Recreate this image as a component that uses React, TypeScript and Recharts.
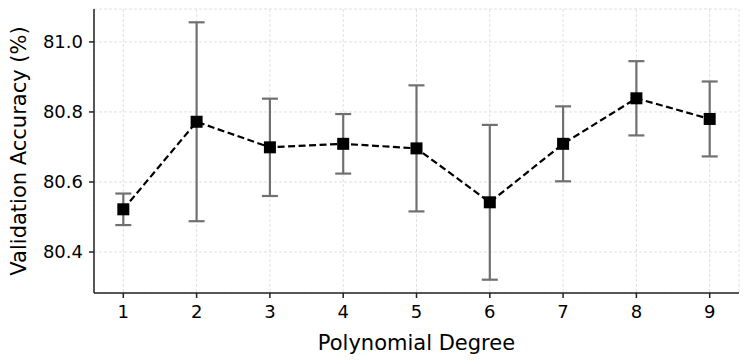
import React from 'react';
import { ComposedChart, Line, XAxis, YAxis, CartesianGrid, ErrorBar, Label } from 'recharts';

const degrees = [1, 2, 3, 4, 5, 6, 7, 8, 9];
const accuracy = [80.522, 80.772, 80.699, 80.709, 80.696, 80.542, 80.709, 80.839, 80.78];
const stdDev = [0.045, 0.284, 0.139, 0.085, 0.18, 0.221, 0.107, 0.106, 0.107];
const yTicks = [80.4, 80.6, 80.8, 81.0];
const xTicks = [1, 2, 3, 4, 5, 6, 7, 8, 9];

const data = degrees.map((d, i) => ({ degree: d, acc: accuracy[i], err: stdDev[i] }));

const FONT = 'DejaVu Sans, sans-serif';

// black square marker like matplotlib 's'
const SquareDot = (props: any) => {
  const { cx, cy } = props;
  if (cx == null || cy == null) return null;
  return <rect x={cx - 6} y={cy - 6} width={12} height={12} fill="#000" />;
};

export default function App() {
  return (
    <div style={{ position: 'absolute', left: 0, top: 0, background: '#fff' }}>
      <ComposedChart
        width={748}
        height={364}
        data={data}
        margin={{ top: 9, right: 9, left: 0, bottom: 0 }}
      >
        <CartesianGrid stroke="#d8d8d8" strokeDasharray="3 2" strokeWidth={0.8} />
        <XAxis
          dataKey="degree"
          type="number"
          domain={[0.6, 9.4]}
          ticks={xTicks}
          allowDataOverflow
          height={71}
          stroke="#222"
          strokeWidth={1.5}
          tickSize={5}
          tickMargin={7}
          tick={{ fill: '#000', fontSize: 18, fontFamily: FONT }}
        >
          <Label
            content={({ viewBox }: any) => (
              <text
                x={viewBox.x + viewBox.width / 2}
                y={viewBox.y + 57}
                textAnchor="middle"
                fontSize={21}
                fontFamily={FONT}
                fill="#000"
              >
                Polynomial Degree
              </text>
            )}
          />
        </XAxis>
        <YAxis
          type="number"
          domain={[80.283, 81.094]}
          ticks={yTicks}
          allowDataOverflow
          width={94}
          stroke="#222"
          strokeWidth={1.5}
          tickSize={5}
          tickMargin={6}
          tickFormatter={(v: number) => v.toFixed(1)}
          tick={{ fill: '#000', fontSize: 18, fontFamily: FONT }}
        >
          <Label
            content={({ viewBox }: any) => {
              const cx = 19;
              const cy = viewBox.y + viewBox.height / 2;
              return (
                <text
                  x={cx}
                  y={cy}
                  transform={`rotate(-90, ${cx}, ${cy})`}
                  textAnchor="middle"
                  dominantBaseline="central"
                  fontSize={21}
                  fontFamily={FONT}
                  fill="#000"
                >
                  Validation Accuracy (%)
                </text>
              );
            }}
          />
        </YAxis>
        {/* error bars drawn first so markers sit on top */}
        <Line dataKey="acc" stroke="none" dot={false} activeDot={false} isAnimationActive={false}>
          <ErrorBar dataKey="err" direction="y" width={8} stroke="#707070" strokeWidth={2.2} />
        </Line>
        <Line
          dataKey="acc"
          type="linear"
          stroke="#000"
          strokeWidth={2.2}
          strokeDasharray="7 3.5"
          dot={<SquareDot />}
          activeDot={false}
          isAnimationActive={false}
        />
      </ComposedChart>
    </div>
  );
}
